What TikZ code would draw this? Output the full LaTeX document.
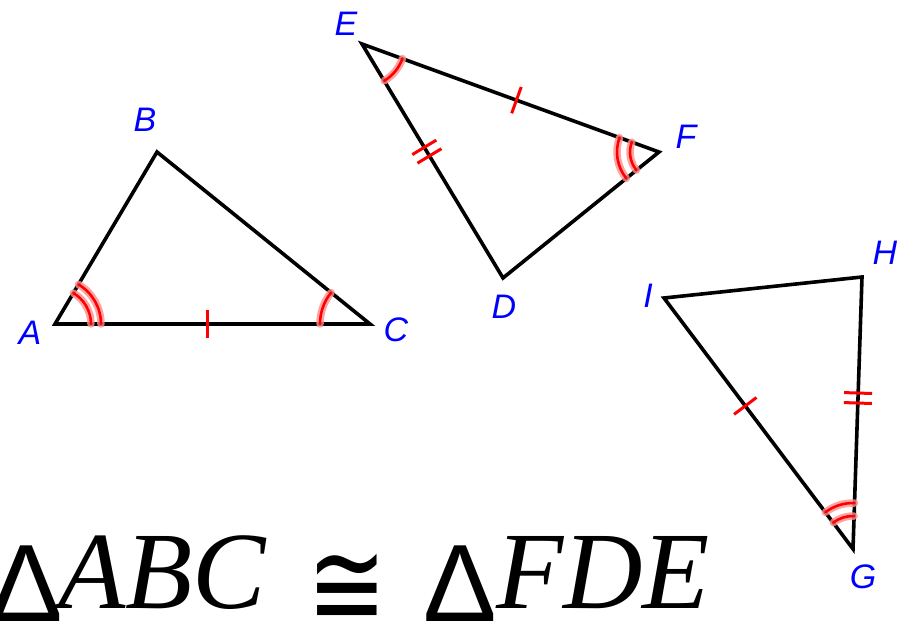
\documentclass[tikz,border=0pt]{standalone}
\usepackage{fontspec}
\setmainfont{Liberation Serif}
\newfontfamily\lblfont{Liberation Sans}
\newfontfamily\symfont{DejaVu Sans}
\usetikzlibrary{calc,angles}
\definecolor{lblblue}{RGB}{0,0,255}
\definecolor{mkred}{RGB}{255,0,0}
\definecolor{halopink}{RGB}{255,140,140}
\tikzset{
  tri/.style={draw=black, line width=3.6pt, line join=miter},
  lbl/.style={text=lblblue, inner sep=0pt, font=\lblfont\itshape\fontsize{34}{34}\selectfont},
  tickst/.style={draw=mkred, line width=3pt},
  halo/.style={draw=halopink, line width=7.5pt, line cap=round, opacity=0.8},
  arcred/.style={draw=mkred, line width=2.6pt, line cap=round},
  big/.style={inner sep=0pt, text depth=0pt, font=\fontsize{110}{110}\selectfont\itshape},
  delt/.style={inner sep=0pt, text depth=0pt, font=\lblfont\fontsize{110}{110}\selectfont}
}
\newcommand\tkone[3]{%
  \coordinate (tm) at ($(#1)!#3!(#2)$);
  \draw[tickst] ($(tm)!14pt!90:(#2)$) -- ($(tm)!14pt!-90:(#2)$);}
\newcommand\tktwo[3]{%
  \coordinate (tm) at ($(#1)!#3!(#2)$);
  \coordinate (ta) at ($(tm)!5pt!(#2)$);
  \coordinate (tb) at ($(tm)!-5pt!(#2)$);
  \draw[tickst] ($(ta)!14pt!90:(#2)$) -- ($(ta)!14pt!-90:(#2)$);
  \draw[tickst] ($(tb)!14pt!90:(#2)$) -- ($(tb)!14pt!-90:(#2)$);}
\newcommand\angmark[2]{%
  \pic[halo, angle radius=#1] {angle=#2};
  \pic[arcred, angle radius=#1] {angle=#2};}
\begin{document}
\begin{tikzpicture}[x=1pt,y=-1pt]
\useasboundingbox (0,0) rectangle (901,628);
% vertices
\coordinate (A) at (55,324);
\coordinate (B) at (157,152);
\coordinate (C) at (370,324);
\coordinate (E) at (362,44);
\coordinate (F) at (659,152);
\coordinate (D) at (503,278);
\coordinate (I) at (664,298);
\coordinate (H) at (862,277);
\coordinate (G) at (853,549);
% triangles
\draw[tri] (A) -- (B) -- (C) -- cycle;
\draw[tri] (E) -- (F) -- (D) -- cycle;
\draw[tri] (I) -- (H) -- (G) -- cycle;
% angle marks
\angmark{36pt}{C--A--B}
\angmark{46pt}{C--A--B}
\angmark{50pt}{B--C--A}
\angmark{43pt}{D--E--F}
\angmark{29pt}{E--F--D}
\angmark{42pt}{E--F--D}
\angmark{33pt}{H--G--I}
\angmark{46pt}{H--G--I}
% tick marks
\tkone{A}{C}{0.483}
\tkone{E}{F}{0.52}
\tktwo{E}{D}{0.46}
\tktwo{H}{G}{0.445}
\tkone{I}{G}{0.43}
% labels
\node[lbl] (lA) at (30,333) {A};
\node[lbl] (lB) at (145,120) {B};
\node[lbl] (lC) at (396,330) {C};
\node[lbl] (lE) at (346,24) {E};
\node[lbl] (lF) at (686,137) {F};
\node[lbl] (lD) at (504,307) {D};
\node[lbl] (lI) at (648,296) {I};
\node[lbl] (lH) at (885,253) {H};
\node[lbl] (lG) at (863,577) {G};
% formula
\node[delt, anchor=base] (d1) at (26,621) {Δ};
\node[big, anchor=base west] (t1) at (58,608) {ABC};
\node[inner sep=0pt, anchor=center, xscale=1.25, yscale=1.6] (cg) at (347,590) {\symfont\fontsize{76}{76}\selectfont ≅};
\node[delt, anchor=base] (d2) at (460,621) {Δ};
\node[big, anchor=base west] (t2) at (496,608) {FDE};
\end{tikzpicture}
\end{document}
